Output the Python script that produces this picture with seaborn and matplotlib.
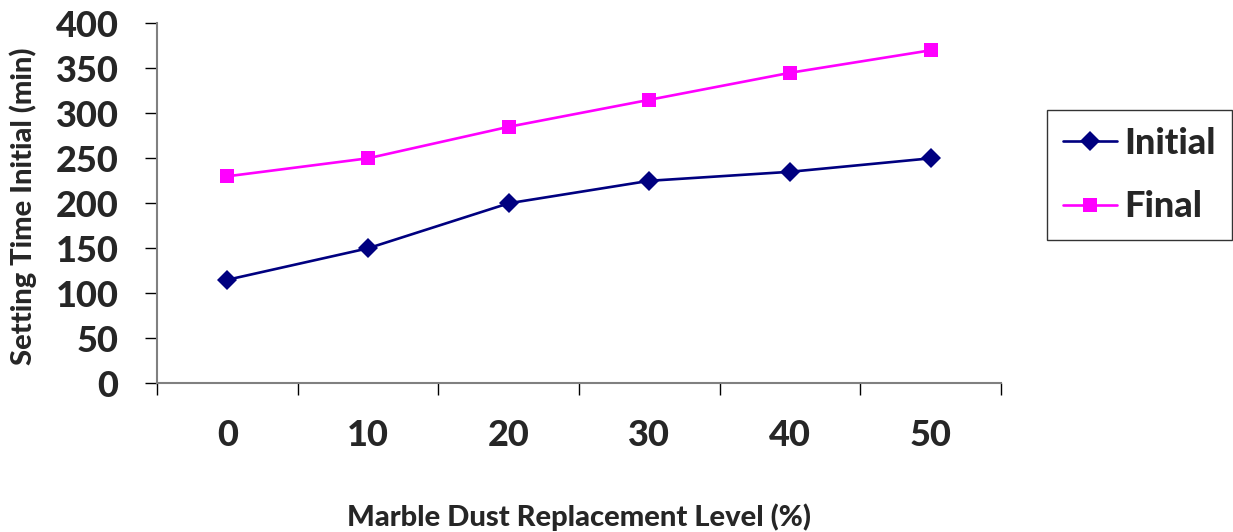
import matplotlib
matplotlib.use("Agg")
import matplotlib.pyplot as plt
import seaborn as sns
import pandas as pd

# Setting time data
levels = ["0", "10", "20", "30", "40", "50"]
initial_min = [115, 150, 200, 225, 235, 250]
final_min = [230, 250, 285, 315, 345, 370]
series_names = ["Initial", "Final"]
y_ticks = [0, 50, 100, 150, 200, 250, 300, 350, 400]

sns.set_theme(style="white")
plt.rcParams["font.family"] = ["Lato", "DejaVu Sans"]
WEIGHT = 900

df = pd.DataFrame({
    "level": levels * 2,
    "pos": list(range(len(levels))) * 2,
    "minutes": initial_min + final_min,
    "series": [series_names[0]] * len(levels) + [series_names[1]] * len(levels),
})

fig = plt.figure(figsize=(12.33, 5.32), dpi=100)
ax = fig.add_axes([157 / 1233, 1 - 383.3 / 532, (1001 - 157) / 1233, 360 / 532])

palette = {"Initial": "#000080", "Final": "#FF00FF"}
markers = {"Initial": "D", "Final": "s"}
msizes = {"Initial": 10, "Final": 9.5}
for name in series_names:
    sub = df[df["series"] == name]
    sns.lineplot(data=sub, x="pos", y="minutes", ax=ax, color=palette[name],
                 marker=markers[name], markersize=msizes[name],
                 markeredgewidth=0, linewidth=1.9, label=name)

ax.set_xlim(-0.5, len(levels) - 0.5)
ax.set_ylim(0, 400)
ax.set_yticks(y_ticks)
ax.set_yticklabels([str(v) for v in y_ticks], fontsize=26, fontweight=WEIGHT)
ax.set_xticks(range(len(levels)))
ax.set_xticklabels(levels, fontsize=26, fontweight=WEIGHT)
ax.set_xticks([i - 0.5 for i in range(len(levels) + 1)], minor=True)
ax.tick_params(axis="x", which="major", length=0, pad=26)
ax.tick_params(axis="x", which="minor", length=8.6, width=1, color="black", direction="out", bottom=True)
ax.tick_params(axis="y", which="major", length=8.6, width=1, color="black", direction="out", left=True, pad=19)

for side in ["top", "right"]:
    ax.spines[side].set_visible(False)
for side in ["left", "bottom"]:
    ax.spines[side].set_color("#808080")
    ax.spines[side].set_linewidth(1.5)

ax.set_xlabel("Marble Dust Replacement Level (%)", fontsize=21, fontweight=WEIGHT)
ax.xaxis.set_label_coords(0.5, (383.3 - 503) / 360)
ax.xaxis.label.set_va("top")
ax.set_ylabel("Setting Time Initial (min)", fontsize=21, fontweight=WEIGHT)
ax.yaxis.set_label_coords((37 - 157) / 844, (383.3 - 206) / 360)

leg = ax.legend(loc="center left", bbox_to_anchor=(1047 / 1233, 1 - 175 / 532),
                bbox_transform=fig.transFigure, frameon=True, fancybox=False,
                prop={"size": 26, "weight": WEIGHT}, handlelength=1.5, handletextpad=0.2,
                labelspacing=0.85, borderpad=0.45, borderaxespad=0)
leg.get_frame().set_edgecolor("black")
leg.get_frame().set_linewidth(1)

fig.savefig("out.png", dpi=100)
